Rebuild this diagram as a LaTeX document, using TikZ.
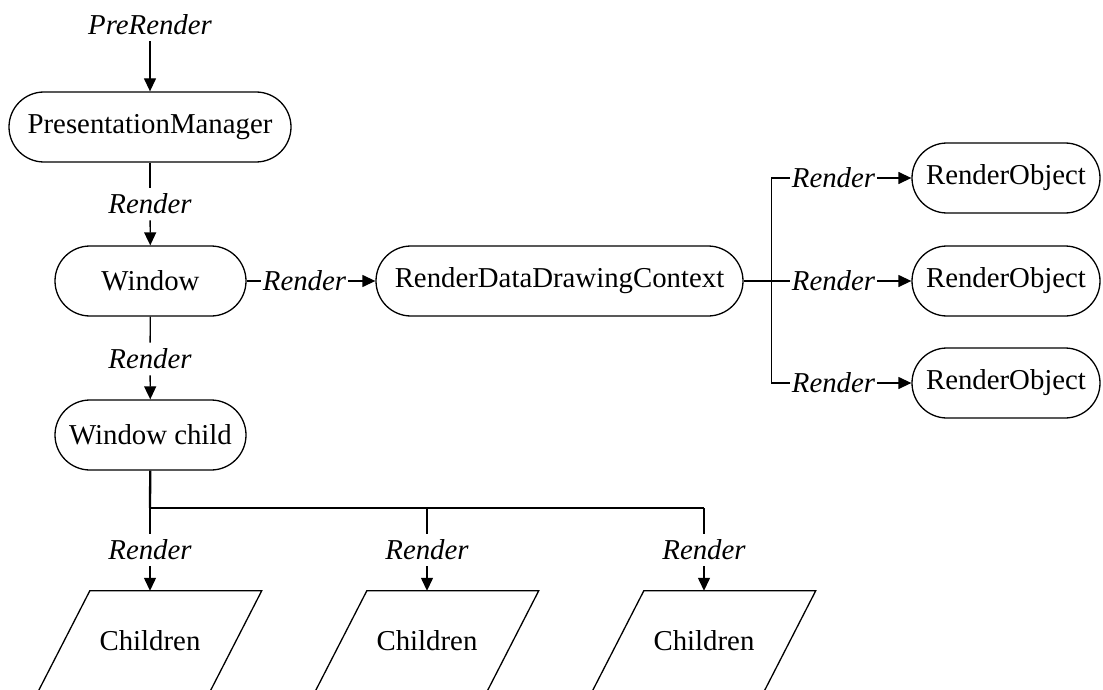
\documentclass[tikz,border=0pt]{standalone}
\usepackage{fontspec}
\setmainfont{Liberation Serif}
\usetikzlibrary{arrows.meta,calc}

\tikzset{
  base/.style={font=\fontsize{28.8}{34}\selectfont},
  pill/.style={base, draw, line width=1.3pt, rounded corners=35pt,
               minimum height=70pt, inner sep=0pt},
  lbl/.style={base, font=\fontsize{28.8}{34}\selectfont\itshape,
              inner xsep=1.5pt, inner ysep=6pt},
  conn/.style={line width=1.3pt},
  arr/.style={conn, -{Triangle[length=13pt,width=12pt]}},
  kid/.style={base, minimum width=223pt, minimum height=100pt, inner sep=0pt},
}

% draws a right-leaning parallelogram inside the box of node #1
\newcommand{\slantbox}[1]{%
  \draw[conn] ($(#1.north west)+(51.5pt,0)$) -- (#1.north east)
    -- ($(#1.south east)-(51.5pt,0)$) -- (#1.south west) -- cycle;}

\begin{document}
\begin{tikzpicture}[x=1pt,y=-1pt]
\clip (0,0) rectangle (1103,690);
\useasboundingbox (0,0) rectangle (1103,690);

% left column
\node[lbl] (pre) at (150,25) {PreRender};
\node[pill, minimum width=282pt] (pm) at (150,127) {PresentationManager};
\node[lbl] (l1) at (150,204) {Render};
\node[pill, minimum width=191pt] (win) at (150.5,281) {Window};
\node[lbl] (l2) at (150,359) {Render};
\node[pill, minimum width=191pt] (wc) at (150.5,435) {Window child};

\draw[arr] (pre) -- (pm);
\draw[conn] (pm) -- (l1);
\draw[arr] (l1) -- (win);
\draw[conn] (win) -- (l2);
\draw[arr] (l2) -- (wc);

% drawing context and render objects
\node[lbl] (l3) at (304.5,281) {Render};
\node[pill, minimum width=367pt] (rddc) at (559.5,281) {RenderDataDrawingContext};
\draw[conn] (win) -- (l3);
\draw[arr] (l3) -- (rddc);

\node[pill, minimum width=188pt] (ro1) at (1006,178) {RenderObject};
\node[pill, minimum width=188pt] (ro2) at (1006,281) {RenderObject};
\node[pill, minimum width=188pt] (ro3) at (1006,383) {RenderObject};
\node[lbl] (r1) at (833.5,178) {Render};
\node[lbl] (r2) at (833.5,281) {Render};
\node[lbl] (r3) at (833.5,383) {Render};

\draw[conn] (rddc) -- (r2);
\draw[conn] (r1.west) -- ++(-19,0) |- (r3.west);
\draw[arr] (r1) -- (ro1);
\draw[arr] (r2) -- (ro2);
\draw[arr] (r3) -- (ro3);

% children
\coordinate (j1) at (150,508);
\coordinate (j2) at (427,508);
\coordinate (j3) at (704,508);
\node[lbl] (c1) at (150,550) {Render};
\node[lbl] (c2) at (427,550) {Render};
\node[lbl] (c3) at (704,550) {Render};
\node[kid] (k1) at (150,641) {Children};
\node[kid] (k2) at (427,641) {Children};
\node[kid] (k3) at (704,641) {Children};
\slantbox{k1}
\slantbox{k2}
\slantbox{k3}

\draw[line width=2.3pt] (wc) -- (j1);
\draw[conn] (j1) -- (j3);
\draw[conn] (j1) -- (c1);
\draw[conn] (j2) -- (c2);
\draw[conn] (j3) -- (c3);
\draw[arr] (c1) -- (k1);
\draw[arr] (c2) -- (k2);
\draw[arr] (c3) -- (k3);
\end{tikzpicture}
\end{document}
